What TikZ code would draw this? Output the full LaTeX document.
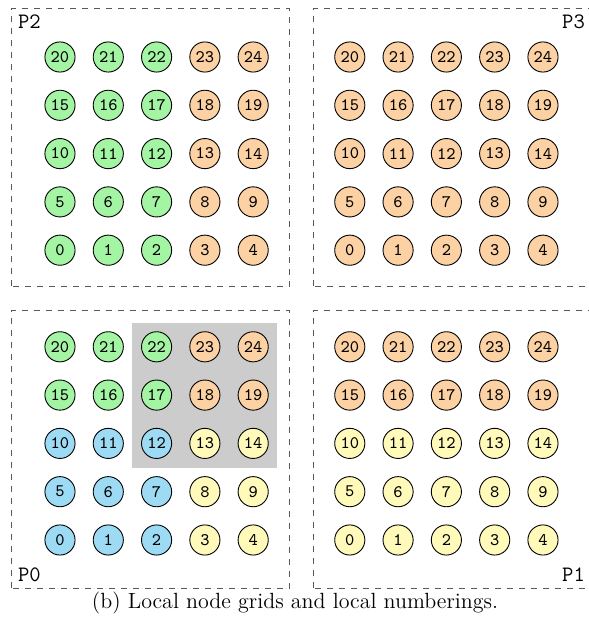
\documentclass[tikz,border=0pt]{standalone}
\usepackage{tikz}

\definecolor{ownedgreen}{RGB}{163,245,163}
\definecolor{ghostorange}{RGB}{252,209,163}
\definecolor{localblue}{RGB}{157,219,245}
\definecolor{localyellow}{RGB}{255,249,186}

\begin{document}
\begin{tikzpicture}[
    x=0.849cm, y=0.849cm,
    vertex/.style={circle,draw,line width=0.45pt,minimum size=0.53cm,inner sep=0pt,font=\ttfamily\fontsize{8.8}{10}\selectfont},
    partbox/.style={draw=black!65,dashed,line width=0.5pt},
    partlabel/.style={font=\ttfamily\fontsize{11}{13}\selectfont,inner sep=0.3em},
    overlap/.style={fill=black!20}
]
\useasboundingbox (-1.242,-1.76) rectangle (10.952,11.18);

% shared block in P0
\fill[overlap] (1.5,1.5) rectangle (4.5,4.5);

% partition boxes
\draw[partbox] (-1,5.25) rectangle (4.75,11);
\draw[partbox] (5.25,5.25) rectangle (11,11);
\draw[partbox] (-1,-1) rectangle (4.75,4.75);
\draw[partbox] (5.25,-1) rectangle (11,4.75);

\node[partlabel,anchor=north west] (lp2) at (-1,11) {P2};
\node[partlabel,anchor=north east] (lp3) at (11,11) {P3};
\node[partlabel,anchor=south west] (lp0) at (-1,-1) {P0};
\node[partlabel,anchor=south east] (lp1) at (11,-1) {P1};

% local grids: part/x-offset/y-offset/first col/last col/first row/last row/colour
\foreach \p/\ox/\oy/\ca/\cb/\ra/\rb/\col in {
    p2/0/6/0/2/0/4/ownedgreen, p2/0/6/3/4/0/4/ghostorange,
    p3/6/6/0/4/0/4/ghostorange,
    p0/0/0/0/2/0/2/localblue, p0/0/0/3/4/0/2/localyellow,
    p0/0/0/0/2/3/4/ownedgreen, p0/0/0/3/4/3/4/ghostorange,
    p1/6/0/0/4/0/2/localyellow, p1/6/0/0/4/3/4/ghostorange}
  \foreach \r in {\ra,...,\rb}
    \foreach \c in {\ca,...,\cb} {
      \pgfmathtruncatemacro{\n}{5*\r+\c}
      \node[vertex,fill=\col] (\p-\n) at (\ox+\c,\oy+\r) {\n};
    }

\node[font=\fontsize{11}{13}\selectfont] (caption) at (4.866,-1.31) {(b) Local node grids and local numberings.};

\end{tikzpicture}
\end{document}
